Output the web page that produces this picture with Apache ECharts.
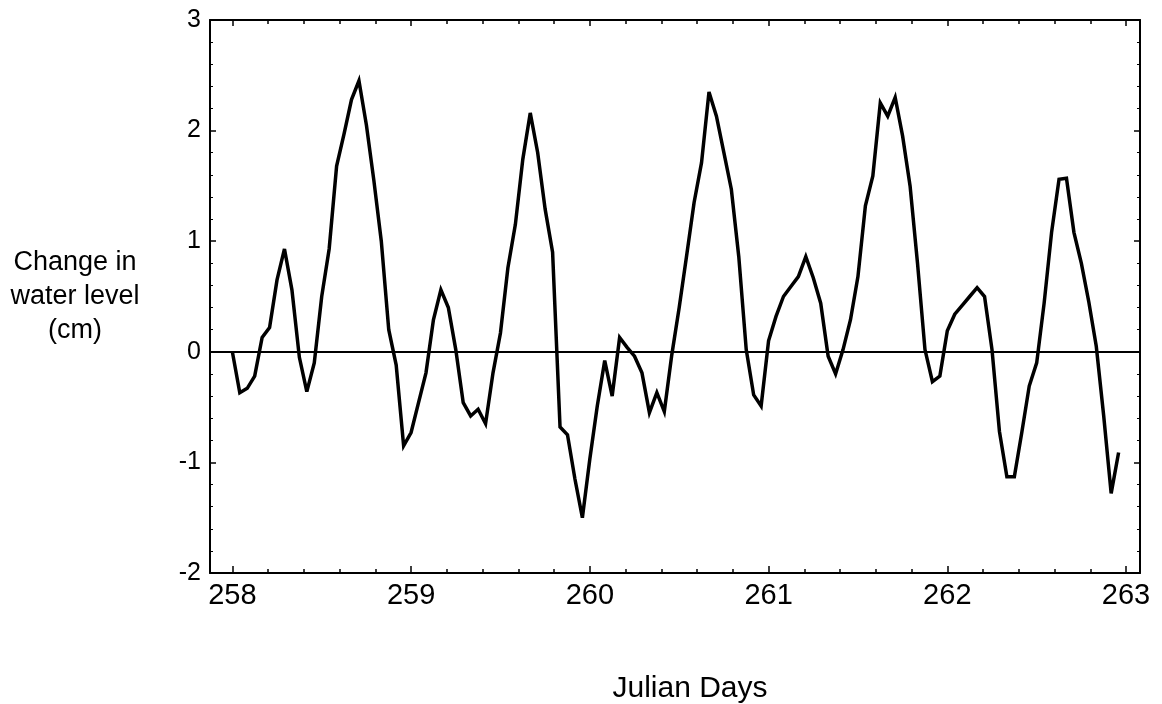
<!DOCTYPE html>
<html>
<head>
<meta charset="utf-8">
<script src="https://cdn.jsdelivr.net/npm/echarts@6/dist/echarts.min.js"></script>
<style>
html,body{margin:0;padding:0;background:#fff;}
#chart{width:1162px;height:704px;}
</style>
</head>
<body>
<div id="chart"></div>
<script>
// ---- data (hourly samples from day 258) ----
const startDay = 258;
const stepDays = 1 / 24;
const levelCm = [
  0, -0.37, -0.33, -0.22, 0.13, 0.22, 0.65, 0.93, 0.56, -0.05,
  -0.36, -0.10, 0.50, 0.93, 1.68, 1.97, 2.28, 2.45, 2.05, 1.55,
  1.00, 0.20, -0.12, -0.85, -0.73, -0.46, -0.19, 0.29, 0.56, 0.40,
  0.02, -0.46, -0.58, -0.52, -0.65, -0.19, 0.17, 0.76, 1.15, 1.74,
  2.16, 1.80, 1.29, 0.90, -0.68, -0.75, -1.15, -1.50, -0.97, -0.49,
  -0.08, -0.40, 0.13, 0.04, -0.04, -0.19, -0.55, -0.37, -0.54, -0.03,
  0.40, 0.87, 1.35, 1.71, 2.35, 2.13, 1.80, 1.47, 0.86, 0.02,
  -0.39, -0.49, 0.10, 0.32, 0.50, 0.59, 0.68, 0.86, 0.67, 0.44,
  -0.04, -0.20, 0.02, 0.29, 0.68, 1.32, 1.59, 2.25, 2.13, 2.30,
  1.95, 1.50, 0.80, 0.02, -0.27, -0.22, 0.19, 0.34, 0.42, 0.50,
  0.58, 0.50, 0.02, -0.72, -1.13, -1.13, -0.73, -0.31, -0.10, 0.44,
  1.08, 1.56, 1.57, 1.08, 0.80, 0.45, 0.05, -0.58, -1.28, -0.91
];
const xMajorTicks = [258, 259, 260, 261, 262, 263];
const xMinorTicks = [258.2, 258.4, 258.6, 258.8, 259.2, 259.4, 259.6, 259.8,
  260.2, 260.4, 260.6, 260.8, 261.2, 261.4, 261.6, 261.8,
  262.2, 262.4, 262.6, 262.8];
const xMin = 257.875, xMax = 263.078;
const yMin = -2, yMax = 3;
const xTitle = 'Julian Days';
const yTitle = 'Change in\nwater level\n(cm)';

const points = levelCm.map((v, i) => [startDay + i * stepDays, v]);

const font = 'Liberation Sans, Arial, Helvetica, sans-serif';
const black = '#000';

function xAx(pos, ticks, len, withLine, withLabel) {
  return {
    type: 'value', position: pos, min: xMin, max: xMax,
    axisLine: { show: withLine, onZero: false, lineStyle: { color: black, width: 2 } },
    axisTick: { show: true, inside: true, length: len, customValues: ticks,
      lineStyle: { color: black, width: 1.5 } },
    axisLabel: withLabel ? { show: true, customValues: xMajorTicks, margin: 8,
      color: black, fontFamily: font, fontSize: 29 } : { show: false },
    splitLine: { show: false }
  };
}
function yAx(pos, withLabel) {
  return {
    type: 'value', position: pos, min: yMin, max: yMax, interval: 1,
    axisLine: { show: true, onZero: false, lineStyle: { color: black, width: 2 } },
    axisTick: { show: true, inside: true, length: 6, lineStyle: { color: black, width: 1.5 } },
    minorTick: { show: true, splitNumber: 5, length: 3, lineStyle: { color: black, width: 1 } },
    axisLabel: withLabel ? { show: true, margin: 9, color: black, fontFamily: font, fontSize: 25 } : { show: false },
    splitLine: { show: false }, minorSplitLine: { show: false }
  };
}

const xAxes = [
  xAx('bottom', xMajorTicks, 7, true, true),
  xAx('bottom', xMinorTicks, 4, false, false),
  xAx('top', xMajorTicks, 6, true, false),
  xAx('top', xMinorTicks, 4, false, false)
];
Object.assign(xAxes[0], {
  name: xTitle, nameLocation: 'middle', nameGap: 116,
  nameTextStyle: { color: black, fontFamily: font, fontSize: 30, verticalAlign: 'middle',
    align: 'center', padding: [0, 0, 0, 30] }
});
const yAxes = [yAx('left', true), yAx('right', false)];
Object.assign(yAxes[0], {
  name: yTitle, nameLocation: 'middle', nameRotate: 0, nameGap: 135,
  nameTextStyle: { color: black, fontFamily: font, fontSize: 27, lineHeight: 34,
    align: 'center', verticalAlign: 'middle', padding: [14, 0, 0, 0] }
});

const chart = echarts.init(document.getElementById('chart'), null, { renderer: 'canvas' });
chart.setOption({
  animation: false,
  backgroundColor: '#fff',
  grid: { left: 210, top: 20, width: 930, height: 553, containLabel: false, outerBoundsMode: 'none' },
  xAxis: xAxes,
  yAxis: yAxes,
  series: [{
    type: 'line', xAxisIndex: 0, yAxisIndex: 0,
    data: points, showSymbol: false, symbol: 'none',
    lineStyle: { color: black, width: 3.5, join: 'miter', miterLimit: 4 },
    markLine: {
      silent: true, symbol: ['none', 'none'], label: { show: false },
      lineStyle: { color: black, width: 2, type: 'solid' },
      data: [{ yAxis: 0 }]
    }
  }]
});
</script>
</body>
</html>
